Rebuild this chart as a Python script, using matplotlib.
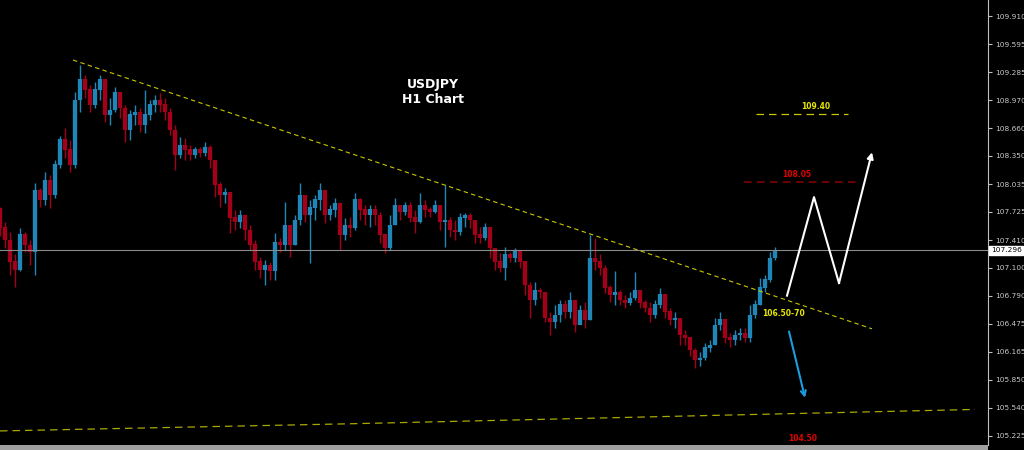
import numpy as np
import matplotlib.pyplot as plt
from matplotlib.patches import Rectangle

# USDJPY H1 candles (one entry every few hours)
first_open = 107.76
closes = [107.55, 107.41, 107.17, 107.08, 107.47, 107.35, 107.28, 107.97, 107.86, 108.08,
          107.91, 108.25, 108.53, 108.42, 108.25, 108.97, 109.20, 109.09, 108.92, 109.09,
          109.20, 108.81, 108.86, 109.06, 108.88, 108.64, 108.81, 108.84, 108.70, 108.81,
          108.92, 108.97, 108.92, 108.84, 108.64, 108.36, 108.47, 108.42, 108.36, 108.42,
          108.38, 108.44, 108.30, 108.03, 107.91, 107.94, 107.66, 107.61, 107.69, 107.52,
          107.36, 107.17, 107.08, 107.13, 107.06, 107.39, 107.36, 107.58, 107.36, 107.63,
          107.91, 107.69, 107.77, 107.86, 107.97, 107.69, 107.75, 107.82, 107.47, 107.58,
          107.55, 107.86, 107.75, 107.69, 107.75, 107.69, 107.47, 107.32, 107.58, 107.80,
          107.72, 107.80, 107.66, 107.61, 107.80, 107.75, 107.72, 107.80, 107.61, 107.63,
          107.52, 107.50, 107.66, 107.69, 107.63, 107.47, 107.43, 107.55, 107.32, 107.17,
          107.10, 107.25, 107.21, 107.28, 107.17, 106.91, 106.74, 106.85, 106.83, 106.54,
          106.50, 106.57, 106.69, 106.61, 106.74, 106.46, 106.63, 106.52, 107.21, 107.17,
          107.10, 106.88, 106.80, 106.83, 106.74, 106.71, 106.76, 106.85, 106.71, 106.65,
          106.57, 106.69, 106.80, 106.61, 106.52, 106.54, 106.35, 106.32, 106.18, 106.07,
          106.09, 106.21, 106.24, 106.46, 106.52, 106.32, 106.30, 106.35, 106.37, 106.32,
          106.57, 106.69, 106.88, 106.97, 107.21, 107.296]
highs = [107.78, 107.61, 107.50, 107.25, 107.55, 107.50, 107.41, 108.05, 107.99, 108.17,
         108.14, 108.30, 108.57, 108.66, 108.53, 109.06, 109.36, 109.25, 109.14, 109.17,
         109.25, 109.20, 109.00, 109.12, 109.06, 108.92, 108.86, 108.92, 108.88, 109.09,
         108.97, 109.03, 109.05, 109.00, 108.88, 108.70, 108.56, 108.55, 108.47, 108.45,
         108.45, 108.51, 108.47, 108.30, 108.06, 107.99, 107.91, 107.75, 107.75, 107.69,
         107.58, 107.41, 107.22, 107.19, 107.17, 107.49, 107.43, 107.84, 107.58, 107.69,
         108.05, 107.91, 107.86, 107.91, 108.05, 107.94, 107.80, 107.88, 107.80, 107.66,
         107.67, 107.94, 107.88, 107.80, 107.80, 107.80, 107.72, 107.47, 107.69, 107.88,
         107.80, 107.84, 107.84, 107.75, 107.94, 107.86, 107.78, 107.86, 107.80, 108.03,
         107.67, 107.63, 107.71, 107.71, 107.71, 107.63, 107.56, 107.60, 107.55, 107.32,
         107.27, 107.33, 107.28, 107.32, 107.25, 107.17, 106.94, 106.94, 106.88, 106.83,
         106.61, 106.69, 106.74, 106.74, 106.83, 106.74, 106.69, 106.72, 107.47, 107.43,
         107.25, 107.13, 106.91, 107.06, 106.85, 106.80, 106.83, 107.05, 106.85, 106.74,
         106.72, 106.74, 106.88, 106.80, 106.65, 106.61, 106.54, 106.41, 106.32, 106.21,
         106.16, 106.26, 106.30, 106.54, 106.61, 106.52, 106.37, 106.41, 106.43, 106.43,
         106.69, 106.74, 106.99, 107.02, 107.28, 107.33]
lows = [107.46, 107.32, 107.02, 106.89, 107.06, 107.28, 107.13, 107.02, 107.78, 107.80,
        107.77, 107.88, 108.22, 108.33, 108.17, 108.22, 108.84, 109.00, 108.84, 108.88,
        108.97, 108.73, 108.70, 108.84, 108.77, 108.51, 108.53, 108.70, 108.62, 108.61,
        108.75, 108.84, 108.84, 108.75, 108.58, 108.19, 108.33, 108.30, 108.30, 108.33,
        108.34, 108.35, 108.22, 107.89, 107.78, 107.82, 107.49, 107.52, 107.55, 107.41,
        107.30, 107.08, 106.99, 106.91, 106.97, 106.97, 107.28, 107.30, 107.22, 107.36,
        107.58, 107.61, 107.16, 107.63, 107.75, 107.60, 107.63, 107.67, 107.30, 107.41,
        107.45, 107.52, 107.63, 107.58, 107.56, 107.58, 107.38, 107.27, 107.30, 107.58,
        107.63, 107.69, 107.61, 107.49, 107.60, 107.67, 107.67, 107.71, 107.52, 107.33,
        107.45, 107.41, 107.47, 107.56, 107.55, 107.38, 107.38, 107.41, 107.21, 107.08,
        107.05, 106.97, 107.17, 107.17, 107.10, 106.80, 106.54, 106.69, 106.76, 106.50,
        106.35, 106.43, 106.50, 106.54, 106.54, 106.38, 106.52, 106.43, 106.52, 107.08,
        107.02, 106.82, 106.72, 106.69, 106.69, 106.65, 106.69, 106.74, 106.65, 106.61,
        106.50, 106.54, 106.65, 106.54, 106.46, 106.43, 106.24, 106.24, 106.12, 105.98,
        106.00, 106.07, 106.16, 106.24, 106.41, 106.26, 106.22, 106.24, 106.30, 106.27,
        106.27, 106.54, 106.69, 106.83, 106.94, 107.19]

y_ticks = [109.910, 109.595, 109.285, 108.970, 108.660, 108.350, 108.035, 107.725,
           107.410, 107.100, 106.790, 106.475, 106.165, 105.850, 105.540, 105.225]
last_price = 107.296

# drawn objects (bar index, price)
trend_x = [14.6, 174.4]
trend_y = [109.42, 106.42]
support_x = [0, 70, 140, 195]
support_y = [105.28, 105.36, 105.45, 105.52]
target_hi_x = [151.2, 169.6]
target_hi_y = 108.82
target_mid_x = [148.8, 172.0]
target_mid_y = 108.06
zig_x = [157.4, 162.8, 167.8]
zig_y = [106.79, 107.89, 106.93]
zig_end = (174.4, 108.39)
down_start = (157.8, 106.39)
down_end = (161.0, 105.65)

bull = '#1f86b8'
bear = '#a5001a'
yellow = '#c8c800'

fig = plt.figure(figsize=(10.24, 4.5), dpi=100, facecolor='black')
ax = fig.add_axes([0, 5 / 450, 988 / 1024, 445 / 450])
ax.set_facecolor('black')

opens = np.array([first_open] + closes[:-1])
c = np.array(closes)
idx = np.arange(len(c))
cols = [bull if cc >= oo else bear for cc, oo in zip(c, opens)]
ax.vlines(idx, lows, highs, colors=cols, lw=1.0)
ax.vlines(idx, np.minimum(opens, c), np.maximum(opens, c) + 0.004, colors=cols, lw=3.1)

ax.axhline(last_price, color='#8a8a8a', lw=0.8)

ax.plot(trend_x, trend_y, color=yellow, lw=0.8, ls=(0, (4, 3)))
ax.plot(support_x, support_y, color='#a8a800', lw=0.9, ls=(0, (6, 4)))
ax.plot(target_hi_x, [target_hi_y] * 2, color=yellow, lw=0.9, ls=(0, (6, 4)))
ax.plot(target_mid_x, [target_mid_y] * 2, color='#8b0000', lw=1.1, ls=(0, (5, 3.5)))

ax.plot(zig_x, zig_y, color='white', lw=1.5)
ax.annotate('', xy=zig_end, xytext=(zig_x[-1], zig_y[-1]),
            arrowprops=dict(arrowstyle='-|>', color='white', lw=1.5, mutation_scale=9,
                            shrinkA=0, shrinkB=0))
ax.annotate('', xy=down_end, xytext=down_start,
            arrowprops=dict(arrowstyle='->', color='#1a9ee0', lw=1.5, mutation_scale=9,
                            shrinkA=0, shrinkB=0))

bold = dict(fontweight='bold', family='DejaVu Sans', ha='center', va='center')
ax.text(86.6, 109.15, 'USDJPY', color='white', fontsize=9, **bold)
ax.text(86.6, 108.98, 'H1 Chart', color='white', fontsize=9, **bold)
ax.text(163.2, 108.90, '109.40', color='#e6e600', fontsize=5.5, **bold)
ax.text(159.4, 108.14, '108.05', color='#e00000', fontsize=5.5, **bold)
ax.text(156.8, 106.59, '106.50-70', color='#e6e600', fontsize=5.5, **bold)
ax.text(160.6, 105.19, '104.50', color='#e00000', fontsize=5.5, **bold)

ax.set_xlim(0, 197.6)
ax.set_ylim(105.123, 110.09)
ax.set_xticks([])
ax.yaxis.tick_right()
ax.set_yticks(y_ticks)
ax.set_yticklabels([f'{t:.3f}' for t in y_ticks])
ax.tick_params(axis='y', colors='#c0c0c0', labelcolor='#c8c8c8', labelsize=5.3,
               length=3, width=0.8, pad=2)
for s in ['top', 'bottom', 'left']:
    ax.spines[s].set_visible(False)
ax.spines['right'].set_color('#c0c0c0')
ax.spines['right'].set_linewidth(0.8)

ax.text(1.003, last_price, f'{last_price:.3f}', transform=ax.get_yaxis_transform(),
        ha='left', va='center', fontsize=5.3, color='black',
        bbox=dict(facecolor='white', edgecolor='white', pad=1.2))

fig.patches.append(Rectangle((0, 0), 988 / 1024, 5 / 450, transform=fig.transFigure,
                             facecolor='#a0a0a0', edgecolor='none'))

fig.savefig('out.png', dpi=100, facecolor='black')
